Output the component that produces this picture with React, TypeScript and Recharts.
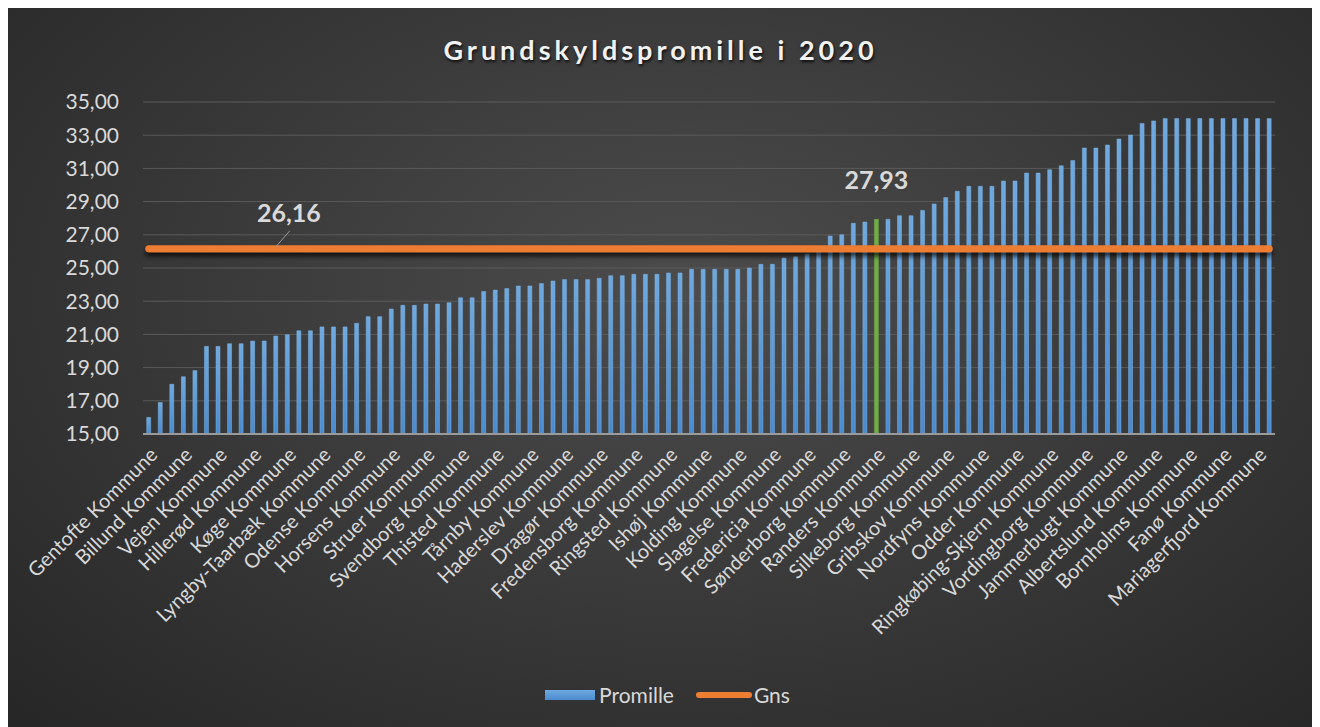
import { ComposedChart, Bar, Line, XAxis, YAxis, CartesianGrid, Legend, Cell } from 'recharts';

const kommuner = [
  'Gentofte Kommune', 'Allerød Kommune', 'Assens Kommune',
  'Billund Kommune', 'Ballerup Kommune', 'Brøndby Kommune',
  'Vejen Kommune', 'Brønderslev Kommune', 'Egedal Kommune',
  'Hillerød Kommune', 'Esbjerg Kommune', 'Favrskov Kommune',
  'Køge Kommune', 'Faxe Kommune', 'Frederiksberg Kommune',
  'Lyngby-Taarbæk Kommune', 'Frederikshavn Kommune', 'Frederikssund Kommune',
  'Odense Kommune', 'Furesø Kommune', 'Faaborg-Midtfyn Kommune',
  'Horsens Kommune', 'Gladsaxe Kommune', 'Glostrup Kommune',
  'Struer Kommune', 'Greve Kommune', 'Guldborgsund Kommune',
  'Svendborg Kommune', 'Halsnæs Kommune', 'Hedensted Kommune',
  'Thisted Kommune', 'Helsingør Kommune', 'Herlev Kommune',
  'Tårnby Kommune', 'Herning Kommune', 'Hjørring Kommune',
  'Haderslev Kommune', 'Holbæk Kommune', 'Holstebro Kommune',
  'Dragør Kommune', 'Hvidovre Kommune', 'Høje-Taastrup Kommune',
  'Fredensborg Kommune', 'Hørsholm Kommune', 'Ikast-Brande Kommune',
  'Ringsted Kommune', 'Kalundborg Kommune', 'Kerteminde Kommune',
  'Ishøj Kommune', 'København Kommune', 'Langeland Kommune',
  'Kolding Kommune', 'Lejre Kommune', 'Lemvig Kommune',
  'Slagelse Kommune', 'Lolland Kommune', 'Læsø Kommune',
  'Fredericia Kommune', 'Middelfart Kommune', 'Morsø Kommune',
  'Sønderborg Kommune', 'Norddjurs Kommune', 'Nyborg Kommune',
  'Randers Kommune', 'Næstved Kommune', 'Odsherred Kommune',
  'Silkeborg Kommune', 'Rebild Kommune', 'Roskilde Kommune',
  'Gribskov Kommune', 'Rudersdal Kommune', 'Rødovre Kommune',
  'Nordfyns Kommune', 'Samsø Kommune', 'Skanderborg Kommune',
  'Odder Kommune', 'Skive Kommune', 'Solrød Kommune',
  'Ringkøbing-Skjern Kommune', 'Sorø Kommune', 'Stevns Kommune',
  'Vordingborg Kommune', 'Syddjurs Kommune', 'Tønder Kommune',
  'Jammerbugt Kommune', 'Vallensbæk Kommune', 'Varde Kommune',
  'Albertslund Kommune', 'Vejle Kommune', 'Vesthimmerlands Kommune',
  'Bornholms Kommune', 'Viborg Kommune', 'Ærø Kommune',
  'Fanø Kommune', 'Aabenraa Kommune', 'Aalborg Kommune',
  'Mariagerfjord Kommune', 'Aarhus Kommune',
];

const promille = [
  16.0, 16.9, 18.0, 18.45, 18.82, 20.28, 20.28, 20.44, 20.44, 20.6,
  20.6, 20.9, 20.98, 21.22, 21.22, 21.45, 21.45, 21.45, 21.67, 22.07,
  22.07, 22.53, 22.75, 22.75, 22.83, 22.83, 22.91, 23.21, 23.21, 23.59,
  23.67, 23.76, 23.92, 23.92, 24.06, 24.22, 24.3, 24.3, 24.3, 24.38,
  24.54, 24.54, 24.62, 24.62, 24.62, 24.7, 24.7, 24.92, 24.92, 24.92,
  24.92, 24.92, 25.0, 25.22, 25.22, 25.6, 25.68, 25.85, 26.0, 26.93,
  27.0, 27.69, 27.77, 27.93, 27.93, 28.15, 28.15, 28.47, 28.86, 29.24,
  29.62, 29.92, 29.92, 29.92, 30.24, 30.24, 30.72, 30.72, 30.92, 31.16,
  31.47, 32.23, 32.23, 32.41, 32.77, 33.01, 33.71, 33.86, 34.0, 34.0,
  34.0, 34.0, 34.0, 34.0, 34.0, 34.0, 34.0, 34.0,
];

const gennemsnit = 26.16;
const fremhaevet = 'Randers Kommune';
const gnsLabelKommune = 'Favrskov Kommune';
const yTicks = [15, 17, 19, 21, 23, 25, 27, 29, 31, 33, 35];

const data = kommuner.map((navn, i) => ({ navn, Promille: promille[i], Gns: gennemsnit }));

const FONT = 'Lato, "Open Sans", sans-serif';
const komma = (v: number) => v.toFixed(2).replace('.', ',');

function LegendContent() {
  return (
    <div style={{ display: 'flex', justifyContent: 'center', alignItems: 'center', gap: 22, fontFamily: FONT, fontSize: 21, color: '#d9d9d9', paddingLeft: 52 }}>
      <span style={{ display: 'flex', alignItems: 'center', gap: 4 }}>
        <span style={{ width: 50, height: 10, background: 'linear-gradient(#6fa9df, #4a8bd0)', display: 'inline-block' }} />
        Promille
      </span>
      <span style={{ display: 'flex', alignItems: 'center', gap: 2 }}>
        <span style={{ width: 56, height: 6, borderRadius: 3, background: '#ed7d31', display: 'inline-block' }} />
        Gns
      </span>
    </div>
  );
}

export default function App() {
  return (
    <div
      style={{
        position: 'relative',
        width: 1305,
        height: 719,
        background: 'radial-gradient(ellipse at 52% 40%, #4c4c4c 0%, #3d3d3d 40%, #262626 100%)',
      }}
    >
      <div
        style={{
          position: 'absolute',
          top: 25,
          left: 0,
          width: '100%',
          textAlign: 'center',
          fontFamily: FONT,
          fontWeight: 700,
          fontSize: 27,
          letterSpacing: 4,
          color: '#f2f2f2',
          textShadow: '1px 2px 3px rgba(0,0,0,0.8)',
        }}
      >
        Grundskyldspromille i 2020
      </div>
      <ComposedChart
        width={1305}
        height={719}
        data={data}
        margin={{ top: 94, right: 38, bottom: 20, left: 0 }}
        barCategoryGap="32%"
      >
        <defs>
          <linearGradient id="blaa" x1="0" y1="0" x2="0" y2="1">
            <stop offset="0%" stopColor="#6fa9df" />
            <stop offset="100%" stopColor="#4a8bd0" />
          </linearGradient>
          <filter id="skygge" filterUnits="userSpaceOnUse" x="0" y="0" width="1305" height="719">
            <feDropShadow dx="0" dy="4" stdDeviation="2.5" floodColor="#000" floodOpacity="0.75" />
          </filter>
        </defs>
        <CartesianGrid vertical={false} stroke="#5a5a5a" strokeWidth={1} />
        <XAxis
          dataKey="navn"
          interval={2}
          angle={-45}
          textAnchor="end"
          height={248}
          tickLine={false}
          axisLine={{ stroke: '#9a9a9a', strokeWidth: 2 }}
          tick={{ fill: '#d9d9d9', fontSize: 20, fontFamily: FONT }}
          tickMargin={6}
        />
        <YAxis
          domain={[15, 35]}
          ticks={yTicks}
          width={135}
          axisLine={false}
          tickLine={false}
          tickSize={0}
          tickMargin={24}
          tickFormatter={komma}
          tick={{ fill: '#d9d9d9', fontSize: 21, fontFamily: FONT }}
        />
        <Bar
          dataKey="Promille"
          fill="url(#blaa)"
          stroke="#7fb3e3"
          strokeWidth={0.5}
          isAnimationActive={false}
          label={(p: any) =>
            data[p.index]?.navn === fremhaevet ? (
              <text
                key="lbl-bar"
                x={p.x + p.width / 2}
                y={p.y - 30}
                textAnchor="middle"
                fill="#d9d9d9"
                fontFamily={FONT}
                fontWeight={700}
                fontSize={25}
              >
                {komma(p.value)}
              </text>
            ) : null
          }
        >
          {data.map((d) => (
            <Cell key={d.navn} fill={d.navn === fremhaevet ? '#70ad47' : 'url(#blaa)'} stroke={d.navn === fremhaevet ? '#70ad47' : '#7fb3e3'} />
          ))}
        </Bar>
        <Line
          dataKey="Gns"
          stroke="#ed7d31"
          strokeWidth={7}
          strokeLinecap="round"
          dot={false}
          activeDot={false}
          filter="url(#skygge)"
          isAnimationActive={false}
          label={(p: any) =>
            data[p.index]?.navn === gnsLabelKommune ? (
              <g key="lbl-line">
                <line x1={p.x + 14} y1={p.y - 18} x2={p.x} y2={p.y - 2} stroke="#9a9a9a" strokeWidth={1} />
                <text
                  x={p.x + 13}
                  y={p.y - 27}
                  textAnchor="middle"
                  fill="#d9d9d9"
                  fontFamily={FONT}
                  fontWeight={700}
                  fontSize={25}
                >
                  {komma(p.value)}
                </text>
              </g>
            ) : null
          }
        />
        <Legend verticalAlign="bottom" content={<LegendContent />} />
      </ComposedChart>
    </div>
  );
}
